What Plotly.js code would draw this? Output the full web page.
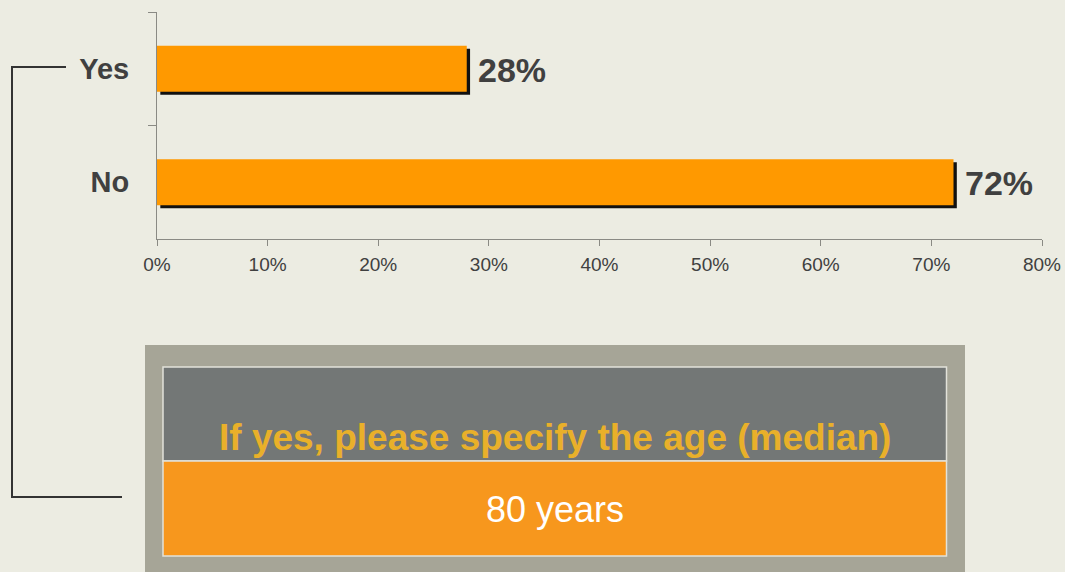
<!DOCTYPE html>
<html>
<head>
<meta charset="utf-8">
<script src="https://cdn.plot.ly/plotly-3.0.1.min.js"></script>
<style>
html,body{margin:0;padding:0;background:#ECECE2;}
#chart{width:1065px;height:572px;}
</style>
</head>
<body>
<div id="chart"></div>
<script>
// Data
const categories = ['Yes', 'No'];
const values = [28, 72];
const xTickVals = [0, 10, 20, 30, 40, 50, 60, 70, 80];
const boxHeader = 'If yes, please specify the age (median)';
const boxValue = '80 years';

const FONT = 'Liberation Sans, Arial, sans-serif';
const DARK = '#404040';

// layout geometry (pixels)
const W = 1065, H = 572;
const M = {l: 157, r: 23, t: 12, b: 333};
const PW = W - M.l - M.r, PH = H - M.t - M.b;
const px = x => (x - M.l) / PW;
const py = y => (H - M.b - y) / PH;

const barWidth = 0.405;
const shadowDx = 0.3;     // x-shift of shadow (data units ≈ 3px)
const shadowDy = 0.027;   // y-shift of shadow (category units ≈ 3px)

const shadow = {
  type: 'bar', orientation: 'h',
  y: categories, x: values,
  base: values.map(() => shadowDx),
  width: barWidth, offset: -barWidth / 2 + shadowDy,
  marker: {color: '#111111', line: {width: 0}},
  hoverinfo: 'skip', showlegend: false
};
const bars = {
  type: 'bar', orientation: 'h',
  y: categories, x: values,
  width: barWidth, offset: -barWidth / 2,
  marker: {color: '#FF9900', line: {width: 0}},
  showlegend: false
};

const shapes = [
  // outer grey frame
  {type: 'rect', xref: 'paper', yref: 'paper', x0: px(145), x1: px(965), y0: py(345), y1: py(600),
   fillcolor: '#A6A597', line: {width: 0}, layer: 'above'},
  // header cell
  {type: 'rect', xref: 'paper', yref: 'paper', x0: px(163), x1: px(946.5), y0: py(367), y1: py(461),
   fillcolor: '#737776', line: {color: '#E2E2DA', width: 1.5}, layer: 'above'},
  // value cell
  {type: 'rect', xref: 'paper', yref: 'paper', x0: px(163), x1: px(946.5), y0: py(461), y1: py(556),
   fillcolor: '#F7971D', line: {color: '#E2E2DA', width: 1.5}, layer: 'above'},
  // bracket
  {type: 'path', xref: 'paper', yref: 'paper',
   path: 'M ' + px(66) + ' ' + py(67) + ' L ' + px(12) + ' ' + py(67) + ' L ' + px(12) + ' ' + py(497) + ' L ' + px(122) + ' ' + py(497),
   line: {color: '#333333', width: 2}, layer: 'above'}
];

const annotations = [
  {xref: 'paper', yref: 'paper', x: px(554.5), y: py(437), text: '<b>' + boxHeader + '</b>',
   showarrow: false, xanchor: 'center', yanchor: 'middle',
   font: {family: FONT, size: 37, color: '#E9B02A'}},
  {xref: 'paper', yref: 'paper', x: px(554.5), y: py(510), text: boxValue,
   showarrow: false, xanchor: 'center', yanchor: 'middle',
   font: {family: FONT, size: 36, color: '#FFFFFF'}}
].concat(categories.map((c, i) => ({
  xref: 'x', yref: 'y', x: values[i], y: c, text: '<b>' + values[i] + '%</b>',
  showarrow: false, xanchor: 'left', yanchor: 'middle', xshift: 9, yshift: -1,
  font: {family: FONT, size: 34, color: DARK}
})));

const layout = {
  width: W, height: H,
  margin: M,
  paper_bgcolor: '#ECECE2', plot_bgcolor: '#ECECE2',
  barmode: 'overlay',
  showlegend: false,
  xaxis: {
    range: [0, 80], tickvals: xTickVals, ticktext: xTickVals.map(v => v + '%'),
    showgrid: false, zeroline: false, showline: true, linecolor: '#8A8A84', linewidth: 1,
    ticks: 'outside', ticklen: 6, tickcolor: '#8A8A84', ticklabelstandoff: 2,
    tickfont: {family: FONT, size: 19, color: DARK}, fixedrange: true
  },
  yaxis: {
    type: 'category', categoryorder: 'array', categoryarray: categories, autorange: 'reversed',
    showgrid: false, zeroline: false, showline: true, linecolor: '#8A8A84', linewidth: 1,
    ticks: 'outside', ticklen: 8, tickcolor: '#8A8A84', tickson: 'boundaries',
    ticklabelstandoff: 21,
    tickfont: {family: FONT, size: 29, color: DARK, weight: 'bold'}, fixedrange: true
  },
  shapes: shapes,
  annotations: annotations
};

Plotly.newPlot('chart', [shadow, bars], layout, {displayModeBar: false, staticPlot: true});
</script>
</body>
</html>
